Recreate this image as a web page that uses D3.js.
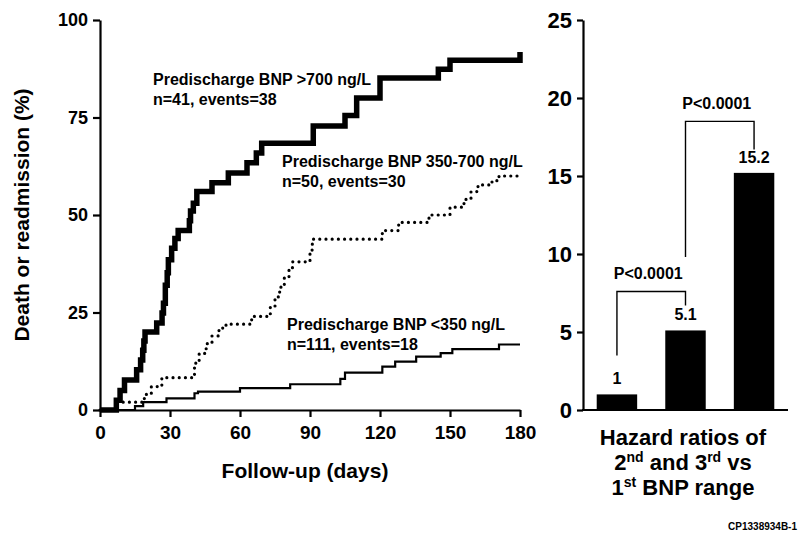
<!DOCTYPE html>
<html>
<head>
<meta charset="utf-8">
<script src="https://cdn.jsdelivr.net/npm/d3@7"></script>
<style>
  html, body { margin: 0; padding: 0; background: #fff; }
  svg { display: block; }
  text { font-family: "Liberation Sans", Arial, Helvetica, sans-serif; font-weight: bold; fill: #000; }
</style>
</head>
<body>
<svg id="chart" width="800" height="535"></svg>
<script>
// ---------- Kaplan-Meier data (day of step, cumulative % after step) ----------
const highDays = [0, 7, 8.6, 10.5, 15.7, 17.4, 18.3, 18.8, 19.3, 24.3, 26.6, 27.2, 28, 28.8, 29.3, 30.7, 32.1, 33.5, 38.3, 38.8, 40, 41.5, 48, 55, 63, 67, 69.3, 91.4, 105, 110, 120, 145, 150, 180];
const highPct  = [0, 2.5, 5, 7.7, 10.3, 12.8, 15.3, 17.7, 20, 22.3, 24.9, 27.4, 32, 35.2, 38.5, 41.5, 44, 46, 48.5, 51, 53, 56, 58.3, 60.8, 63.4, 65.9, 68.4, 72.8, 75.5, 80, 85.1, 87.4, 89.7, 91.8];

const midDays = [0, 7, 19, 22, 26.5, 40.5, 42.5, 45.5, 48, 51, 54, 65, 73, 75, 77, 79, 81, 82.5, 90, 91, 121, 128, 141, 150, 156, 159, 162, 168, 171, 180];
const midPct  = [0, 2, 4, 6, 8.3, 12, 14.5, 17, 19, 21, 22, 24, 26.5, 29, 31.5, 34, 36.5, 38, 41, 43.8, 46, 48.1, 50, 52, 54, 56, 57.7, 58.8, 60, 60];

const lowDays = [0, 15, 18.5, 28.5, 40.5, 42, 60, 81.5, 103, 105, 121, 126.5, 135.5, 146, 151, 171, 180];
const lowPct  = [0, 1, 2, 3, 4.3, 4.7, 5.6, 6.6, 8, 9.6, 11.1, 12.4, 13.7, 14.6, 15.6, 16.8, 16.8];

const kmLabels = [
  ["Predischarge BNP >700 ng/L", "n=41, events=38"],
  ["Predischarge BNP 350-700 ng/L", "n=50, events=30"],
  ["Predischarge BNP <350 ng/L", "n=111, events=18"]
];
const kmXTicks = [0, 30, 60, 90, 120, 150, 180];
const kmYTicks = [0, 25, 50, 75, 100];

// ---------- Hazard ratio data ----------
const hrCategories = ["<350", "350-700", ">700"];
const hrValues = [1, 5.1, 15.2];
const hrLabels = ["1", "5.1", "15.2"];
const hrYTicks = [0, 5, 10, 15, 20, 25];
const hrComparisons = [[0, 1, "P<0.0001"], [1, 2, "P<0.0001"]];

// ---------- drawing ----------
const svg = d3.select("#chart");
const FONT = '"Liberation Sans", Arial, Helvetica, sans-serif';

// Left KM panel
const x = d3.scaleLinear().domain([0, 180]).range([100, 520]);
const y = d3.scaleLinear().domain([0, 100]).range([410, 20]);

const yAx = svg.append("g").attr("transform", "translate(100,0)")
  .call(d3.axisLeft(y).tickValues(kmYTicks).tickSize(7).tickSizeOuter(0).tickPadding(5));
const xAx = svg.append("g").attr("transform", "translate(0,410)")
  .call(d3.axisBottom(x).tickValues(kmXTicks).tickSize(7).tickSizeOuter(0).tickPadding(9));
[yAx, xAx].forEach(g => {
  g.selectAll("path,line").attr("stroke", "#000").attr("stroke-width", 2.2);
  g.selectAll("text").attr("font-family", FONT).attr("font-weight", "bold").attr("fill", "#000");
});
yAx.selectAll("text").attr("font-size", 18);
xAx.selectAll("text").attr("font-size", 19);

const line = d3.line().x(d => x(d[0])).y(d => y(d[1])).curve(d3.curveStepAfter);
const zip = (a, b) => a.map((v, i) => [v, b[i]]);

svg.append("path").datum(zip(lowDays, lowPct)).attr("d", line)
  .attr("fill", "none").attr("stroke", "#000").attr("stroke-width", 2.2);
svg.append("path").datum(zip(midDays, midPct)).attr("d", line)
  .attr("fill", "none").attr("stroke", "#000").attr("stroke-width", 3.2)
  .attr("stroke-dasharray", "0 6.2").attr("stroke-linecap", "round");
svg.append("path").datum(zip(highDays, highPct)).attr("d", line)
  .attr("fill", "none").attr("stroke", "#000").attr("stroke-width", 5.5)
  .attr("stroke-linejoin", "miter").attr("stroke-linecap", "butt");

const labelPos = [[153, 85], [282, 167], [287, 330]];
kmLabels.forEach((lines, i) => {
  const t = svg.append("text").attr("font-size", 16).attr("font-family", FONT);
  lines.forEach((s, j) => t.append("tspan").attr("x", labelPos[i][0]).attr("y", labelPos[i][1] + j * 20).text(s));
});

svg.append("text").attr("font-size", 21).attr("text-anchor", "middle")
  .attr("transform", "translate(29,215) rotate(-90)").text("Death or readmission (%)");
svg.append("text").attr("font-size", 21).attr("text-anchor", "middle")
  .attr("x", 305).attr("y", 478).text("Follow-up (days)");

// Right HR panel
const xb = d3.scaleBand().domain(hrCategories).range([583, 788]).paddingInner(0.41).paddingOuter(0.2);
const yb = d3.scaleLinear().domain([0, 25]).range([410, 20]);

const ybAx = svg.append("g").attr("transform", "translate(583,0)")
  .call(d3.axisLeft(yb).tickValues(hrYTicks).tickSize(6).tickSizeOuter(0).tickPadding(5));
ybAx.selectAll("path,line").attr("stroke", "#000").attr("stroke-width", 2.2);
ybAx.selectAll("text").attr("font-family", FONT).attr("font-weight", "bold").attr("fill", "#000").attr("font-size", 22);
svg.append("line").attr("x1", 582).attr("x2", 788).attr("y1", yb(0)).attr("y2", yb(0))
  .attr("stroke", "#000").attr("stroke-width", 2.2);

svg.selectAll("rect.bar").data(hrValues).enter().append("rect").attr("class", "bar")
  .attr("x", (d, i) => xb(hrCategories[i])).attr("width", xb.bandwidth())
  .attr("y", d => yb(d)).attr("height", d => yb(0) - yb(d)).attr("fill", "#000");
svg.selectAll("text.val").data(hrValues).enter().append("text").attr("class", "val")
  .attr("x", (d, i) => xb(hrCategories[i]) + xb.bandwidth() / 2).attr("y", d => yb(d) - 10)
  .attr("text-anchor", "middle").attr("font-size", 16).text((d, i) => hrLabels[i]);

// comparison brackets (leftLegBottom, top, rightLegBottom in HR units)
const bracketLevels = [[3.5, 7.6, 6.7], [9.8, 18.5, 16.7]];
hrComparisons.forEach((c, i) => {
  const xa = xb(hrCategories[c[0]]) + xb.bandwidth() / 2;
  const xc = xb(hrCategories[c[1]]) + xb.bandwidth() / 2;
  const lv = bracketLevels[i];
  svg.append("path")
    .attr("d", `M${xa},${yb(lv[0])}V${yb(lv[1])}H${xc}V${yb(lv[2])}`)
    .attr("fill", "none").attr("stroke", "#000").attr("stroke-width", 1.4);
  svg.append("text").attr("x", (xa + xc) / 2 - 3).attr("y", yb(lv[1]) - 12)
    .attr("text-anchor", "middle").attr("font-size", 16).text(c[2]);
});

// HR title
const tt = svg.append("text").attr("font-size", 22).attr("text-anchor", "middle");
tt.append("tspan").attr("x", 683).attr("y", 445).text("Hazard ratios of");
const l2 = svg.append("text").attr("font-size", 22).attr("text-anchor", "middle").attr("x", 683).attr("y", 470);
l2.append("tspan").text("2");
l2.append("tspan").attr("font-size", 14).attr("dy", -8).text("nd");
l2.append("tspan").attr("dy", 8).text(" and 3");
l2.append("tspan").attr("font-size", 14).attr("dy", -8).text("rd");
l2.append("tspan").attr("dy", 8).text(" vs");
const l3 = svg.append("text").attr("font-size", 22).attr("text-anchor", "middle").attr("x", 683).attr("y", 495);
l3.append("tspan").text("1");
l3.append("tspan").attr("font-size", 14).attr("dy", -8).text("st");
l3.append("tspan").attr("dy", 8).text(" BNP range");

svg.append("text").attr("x", 797).attr("y", 530).attr("text-anchor", "end")
  .attr("font-size", 10).text("CP1338934B-1");
</script>
</body>
</html>
